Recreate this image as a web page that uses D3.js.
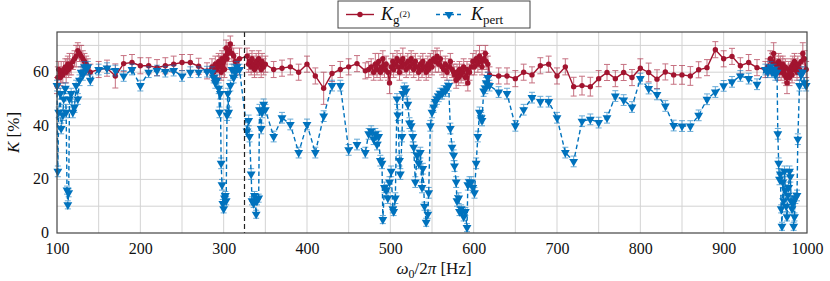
<!DOCTYPE html>
<meta charset="utf-8">
<script src="https://d3js.org/d3.v7.min.js"></script>
<style>
body { margin: 0; background: #fff; }
</style>
<div id="my_dataviz"></div>
<script>

// frequencies (Hz)
var freqA = [100,101,102,104,105,107,108,110,111,112,113,114,115,117,119,121,123,125,127,129,131,133,135,137,140];
var freqB = [150,160,170,180,190,200,210,220,230,240,250,260,270,280];
var freqC = [286,288,290,292,294,295,296,297,298,299,300,301,302,303,304,305,306,308,310,312,314,316,319];
var freqD = [328,330,331,333,334,336,337,339,340,342,343,345,346,348,350];
var freqE = [360,370,380,390,400,410,420,430,440,450,460,470];
var freqF = [474,477,480,482,484,486,488,490,491,493,495,497,499,501,503,504,506,508,509,511,
             512,514,515,517,519,521,523,525,527,528,530,532,534,536,538,539,541,543,545,546,
             548,550,552,554,556,558,560,562,564,566,568,570,572,574,576,577,579,580,582,583,
             585,586,588,590,592,593,595,597,599,601,603,605,607,609,610,612,614,615,617,619];
var freqG = [630,640,650,660,670,680,690,700,710,720,730,740,750,760,770,780,790,800,810,820,
             830,840,850,860,870,880,890,900,910,920,930,940];
var freqH = [950,953,956,958,960,962,964,965,966,967,968,969,970,971,972,973,974,975,976,977,
             978,979,980,981,982,983,984,985,986,988,989,991,993,995,997,999];

// K_g(2) [%]
var kg2A = [55,58,61,58,60,59,61,62,60,62,63,61,63,62,64,65,66,68,67,66,65,64,63,62,60];
var kg2B = [61,61.5,58.6,63.2,63.6,62.4,62.4,61.7,62.4,63,63.6,63.6,62.2,60.5];
var kg2C = [62,60,63,61,64,62,63,60,65,62,64,61,66,69,65,67,68,70.5,67,66,64,62,65];
var kg2D = [66,63,64,62,65,63,61,64,62,65,63,61,64,62,63];
var kg2E = [61,61.5,62,60,63,58.6,54,59.5,61,62,63.2,60.5];
var kg2F = [61,62,60,63,61,64,60,62,65,61, 63,60,56,62,64,61,63,65,62,60,
            64,62,65,63,61,64,62,65,63,61, 64,62,60,63,61,64,62,60,63,61,
            64,62,65,64,66,63,65,62,61,63, 60,62,64,61,60,59,57,60,58,61,
            59,60,62,58,61,56,60,62,64,62, 65,63,66,64,62,65,67,64,63,59];
var kg2G = [58.6,58.6,57.6,60,59,62.4,63,58.6,62,54.6,55,54.6,57.6,59.9,57.6,59.9,58,61.5,59.9,57.4,
            60.1,59,59,58.6,60.9,61.7,68.4,65,65.9,62.4,63.6,61.7];
var kg2H = [61,62,65,64,67,63,62,60,64,61,63,60,62,63,61,59,62,58,56,59,
            61,58,60,62,59,63,61,64,62,60,63,61,64,67,65,61];

// K_g(2) error half-widths
var kg2ErrA = [3,4,3,3,4,3,3,3,4,3,3,3,4,3,3,3,4,3,3,4,3,3,3,3,3];
var kg2ErrB = [3,3,4.5,3,3,3,3,3,3,3,3,3,3,3];
var kg2ErrC = [3,3,3,3,3,4,3,3,3,3,3,3,3,3,4,3,3,3,3,3,3,3,4];
var kg2ErrD = [3,3,3,3,3,3,3,3,3,3,3,3,3,3,3];
var kg2ErrE = [3,3,3,3,3,3,6,3,3,3,3,3];
var kg2ErrF = [3,3,3,4,3,3,3,3,3,3, 3,3,4,3,3,3,3,3,3,3, 3,3,4,3,3,3,3,3,3,3, 3,3,3,3,3,3,3,3,3,3,
               3,3,3,4,3,3,3,3,3,3, 3,3,3,3,3,3,3,3,3,3, 3,3,3,3,3,3,3,3,3,3, 3,3,4,3,3,3,3,3,3,3];
var kg2ErrG = [3,3,3,3,3,3,3,3,3,3.5,3.5,3.5,3,3,3,3,3,3.5,3.5,3.5,3,3.5,3.5,3.5,3,3,3,3,3,3,3,3];
var kg2ErrH = [3,3,3,3,4,3,3,3,3,3,3,3,3,3,3,3,3,3,4,3,3,3,3,3,3,3,3,3,3,3,3,3,3,4,3,3];

// K_pert [%]
var kpertA = [55,23,45,52,39,44,50,54,45,16,10.5,15,50,52,45,47,55,50,57,60,59,62,61,62,57];
var kpertB = [61,61.5,60.6,58.6,61,55,60,60.6,60.2,60.6,58.6,60,60,60.2];
var kpertC = [60,58,56,57,54,45,52,26,18,11,9,13,14,12,44,52,45,55,61,58,60,62,61];
var kpertD = [38,42,36,22,12,11,14,7,12,13,46,39,45,48,46];
var kpertE = [36,43,40.5,30,40.5,30,43.6,55,55,31,33,30];
var kpertF = [37,38,35,37,33,36,27,26,5,17, 16,13,19,23,9,8,13,50,44,27,
              22,36,52,54,53,48,41,40,36,32, 19,29,26,30,17,24,10,4,7,15,
              40,45,47,49,50,51,52,52,53,53, 54,55,39,32,29,25,19,12,13,8,
              9,8,6,8,2,18,19,19,17,15, 26,36,45,43,42,53,54,56,58,55];
var kpertG = [52.6,52,40,46,50.5,49,49,43,30,26.7,41.7,42.4,41.2,43,51.1,49.6,47,57.6,53.9,51.7,
              47.4,40.1,39.9,39.9,43.9,49.9,52.6,54.9,56.4,58.6,57.6,55.5];
var kpertH = [61,60,62,60,61,59,60,37,26,20,22,9,2.5,19,12,23,16,10,6,14,
              17,23,21,12,9,11,2.5,6,13,14,35,55,59,60,56,55];

// K_pert error half-widths
var kpertErrA = [2,2,2,2,2,2,2,2,2,1.5,1.5,1.5,2,2,2,2,2,2,2,2,2,2,2,2,2];
var kpertErrB = [2,2,2,2,2,2,2,2,2,2,2,2,2,2];
var kpertErrC = [2,2,2,2,2,2,2,2,2,1.5,1.5,1.5,1.5,1.5,2,2,2,2,2,2,2,2,2];
var kpertErrD = [2,2,2,2,1.5,1.5,1.5,1.5,1.5,1.5,2,2,2,2,2];
var kpertErrE = [2,2,2,2,2,2,2,2,2,2,2,2];
var kpertErrF = [2,2,2,2,2,2,2,2,1.5,2, 2,2,2,2,1.5,1.5,2,2,2,2, 2,2,2,2,2,2,2,2,2,2, 2,2,2,2,2,2,1.5,1.5,1.5,2,
                 2,2,2,2,2,2,2,2,2,2, 2,2,2,2,2,2,2,2,2,1.5, 1.5,1.5,1.5,1.5,1.5,2,2,2,2,2, 2,2,2,2,2,2,2,2,2,2];
var kpertErrG = [2,2,2,2,2,2,2,2,2,2,2,2,2,2,2,2,2,2,2,2,2,2,2,2,2,2,2,2,2,2,2,2];
var kpertErrH = [2,2,2,2,2,2,2,2,2,2,2,1.5,1.5,2,2,2,2,2,1.5,2,2,2,2,2,1.5,2,1.5,1.5,2,2,2,2,2,2,2,2];

var xTicks = [100,200,300,400,500,600,700,800,900,1000];
var yTicks = [0,20,40,60];
var markerFreq = 325;   // dashed vertical line

var freq = [].concat(freqA, freqB, freqC, freqD, freqE, freqF, freqG, freqH);
var kg2 = [].concat(kg2A, kg2B, kg2C, kg2D, kg2E, kg2F, kg2G, kg2H);
var kg2Err = [].concat(kg2ErrA, kg2ErrB, kg2ErrC, kg2ErrD, kg2ErrE, kg2ErrF, kg2ErrG, kg2ErrH);
var kpert = [].concat(kpertA, kpertB, kpertC, kpertD, kpertE, kpertF, kpertG, kpertH);
var kpertErr = [].concat(kpertErrA, kpertErrB, kpertErrC, kpertErrD, kpertErrE, kpertErrF, kpertErrG, kpertErrH);

var redData = freq.map(function(f, i) { return {f: f, v: kg2[i], e: kg2Err[i]}; });
var blueData = freq.map(function(f, i) { return {f: f, v: kpert[i], e: kpertErr[i]}; });

var RED = "#a2142f", BLUE = "#0072bd";
var FONT = "Liberation Serif";

// set the dimensions and margins of the graph
var margin = {top: 32, right: 23, bottom: 48, left: 57},
    width = 830 - margin.left - margin.right,
    height = 281 - margin.top - margin.bottom;

var root = d3.select("#my_dataviz")
  .append("svg")
    .attr("width", 830)
    .attr("height", 281)
    .attr("font-family", FONT);
var svg = root.append("g")
    .attr("transform", "translate(" + margin.left + "," + margin.top + ")");

var x = d3.scaleLinear().domain([100, 1000]).range([0, width]);
var y = d3.scaleLinear().domain([0, 75]).range([height, 0]);

// grid
svg.append("g").selectAll("line")
  .data(d3.range(150, 1000, 50))
  .enter().append("line")
    .attr("x1", function(d) { return x(d); })
    .attr("x2", function(d) { return x(d); })
    .attr("y1", 0).attr("y2", height)
    .attr("stroke", "#d3d3d3").attr("stroke-width", 1);
svg.append("g").selectAll("line")
  .data(d3.range(10, 75, 10))
  .enter().append("line")
    .attr("y1", function(d) { return y(d); })
    .attr("y2", function(d) { return y(d); })
    .attr("x1", 0).attr("x2", width)
    .attr("stroke", "#d3d3d3").attr("stroke-width", 1);

// axes
var xAxis = svg.append("g")
  .attr("transform", "translate(0," + height + ")")
  .call(d3.axisBottom(x).tickValues(xTicks).tickSize(0).tickPadding(10).tickFormat(d3.format("d")));
var yAxis = svg.append("g")
  .call(d3.axisLeft(y).tickValues(yTicks).tickSize(0).tickPadding(8));
[xAxis, yAxis].forEach(function(a) {
  a.attr("font-family", FONT).attr("font-size", 16);
  a.select(".domain").remove();
  a.selectAll("text").attr("fill", "#111");
});
yAxis.selectAll("text").attr("dy", "0.28em");

// error bars helper
function errorBars(data, color, cap) {
  var g = svg.append("g").attr("stroke", color).attr("stroke-width", 1).attr("opacity", 0.6);
  data.forEach(function(d) {
    var cx = x(d.f);
    g.append("line").attr("x1", cx).attr("x2", cx).attr("y1", y(d.v - d.e)).attr("y2", y(d.v + d.e));
    g.append("line").attr("x1", cx - cap).attr("x2", cx + cap).attr("y1", y(d.v - d.e)).attr("y2", y(d.v - d.e));
    g.append("line").attr("x1", cx - cap).attr("x2", cx + cap).attr("y1", y(d.v + d.e)).attr("y2", y(d.v + d.e));
  });
}

var line = d3.line().x(function(d) { return x(d.f); }).y(function(d) { return y(d.v); });

// red series
errorBars(redData, RED, 3);
svg.append("path").datum(redData)
  .attr("d", line).attr("fill", "none").attr("stroke", RED).attr("stroke-width", 1.4);
svg.append("g").selectAll("circle")
  .data(redData).enter().append("circle")
    .attr("cx", function(d) { return x(d.f); })
    .attr("cy", function(d) { return y(d.v); })
    .attr("r", 2.7)
    .attr("fill", RED);

// blue series
var tri = d3.symbol().type(d3.symbolTriangle).size(34);
errorBars(blueData, BLUE, 3);
svg.append("path").datum(blueData)
  .attr("d", line).attr("fill", "none").attr("stroke", BLUE).attr("stroke-width", 1.4)
  .attr("stroke-dasharray", "4.5,3");
svg.append("g").selectAll("path")
  .data(blueData).enter().append("path")
    .attr("d", tri)
    .attr("transform", function(d) { return "translate(" + x(d.f) + "," + y(d.v) + ") rotate(180)"; })
    .attr("fill", BLUE);

// dashed marker line
svg.append("line")
  .attr("x1", x(markerFreq)).attr("x2", x(markerFreq))
  .attr("y1", 0).attr("y2", height)
  .attr("stroke", "#222").attr("stroke-width", 1.2).attr("stroke-dasharray", "5,3");

// frame
svg.append("rect")
  .attr("width", width).attr("height", height)
  .attr("fill", "none").attr("stroke", "#444").attr("stroke-width", 1.2);

// axis labels
var xl = svg.append("text")
  .attr("x", width / 2 + 2).attr("y", height + 41)
  .attr("text-anchor", "middle").attr("font-size", 17).attr("fill", "#111");
xl.append("tspan").attr("font-style", "italic").text("ω");
xl.append("tspan").attr("dy", 4).attr("font-size", 12).text("0");
xl.append("tspan").attr("dy", -4).text("/2");
xl.append("tspan").attr("font-style", "italic").text("π");
xl.append("tspan").text(" [Hz]");

var yl = svg.append("text")
  .attr("transform", "translate(" + (-38) + "," + (height / 2) + ") rotate(-90)")
  .attr("text-anchor", "middle").attr("font-size", 17).attr("fill", "#111");
yl.append("tspan").attr("font-style", "italic").text("K");
yl.append("tspan").text(" [%]");

// legend
var leg = root.append("g");
leg.append("rect").attr("x", 338).attr("y", 1).attr("width", 192).attr("height", 27)
  .attr("fill", "#fff").attr("stroke", "#444").attr("stroke-width", 1);
leg.append("line").attr("x1", 346).attr("x2", 374).attr("y1", 14.5).attr("y2", 14.5)
  .attr("stroke", RED).attr("stroke-width", 1.4);
leg.append("circle").attr("cx", 360).attr("cy", 14.5).attr("r", 2.7).attr("fill", RED);
var t1 = leg.append("text").attr("x", 381).attr("y", 20).attr("font-size", 18).attr("fill", "#111");
t1.append("tspan").attr("font-style", "italic").text("K");
t1.append("tspan").attr("dy", 4).attr("font-size", 13).text("g");
t1.append("tspan").attr("dy", -7).attr("font-size", 9).text("(2)");

leg.append("line").attr("x1", 436).attr("x2", 462).attr("y1", 14.5).attr("y2", 14.5)
  .attr("stroke", BLUE).attr("stroke-width", 1.4).attr("stroke-dasharray", "4,3");
leg.append("path").attr("d", tri).attr("transform", "translate(449,14.5) rotate(180)").attr("fill", BLUE);
var t2 = leg.append("text").attr("x", 471).attr("y", 20).attr("font-size", 18).attr("fill", "#111");
t2.append("tspan").attr("font-style", "italic").text("K");
t2.append("tspan").attr("dy", 4).attr("font-size", 13).text("pert");

</script>
